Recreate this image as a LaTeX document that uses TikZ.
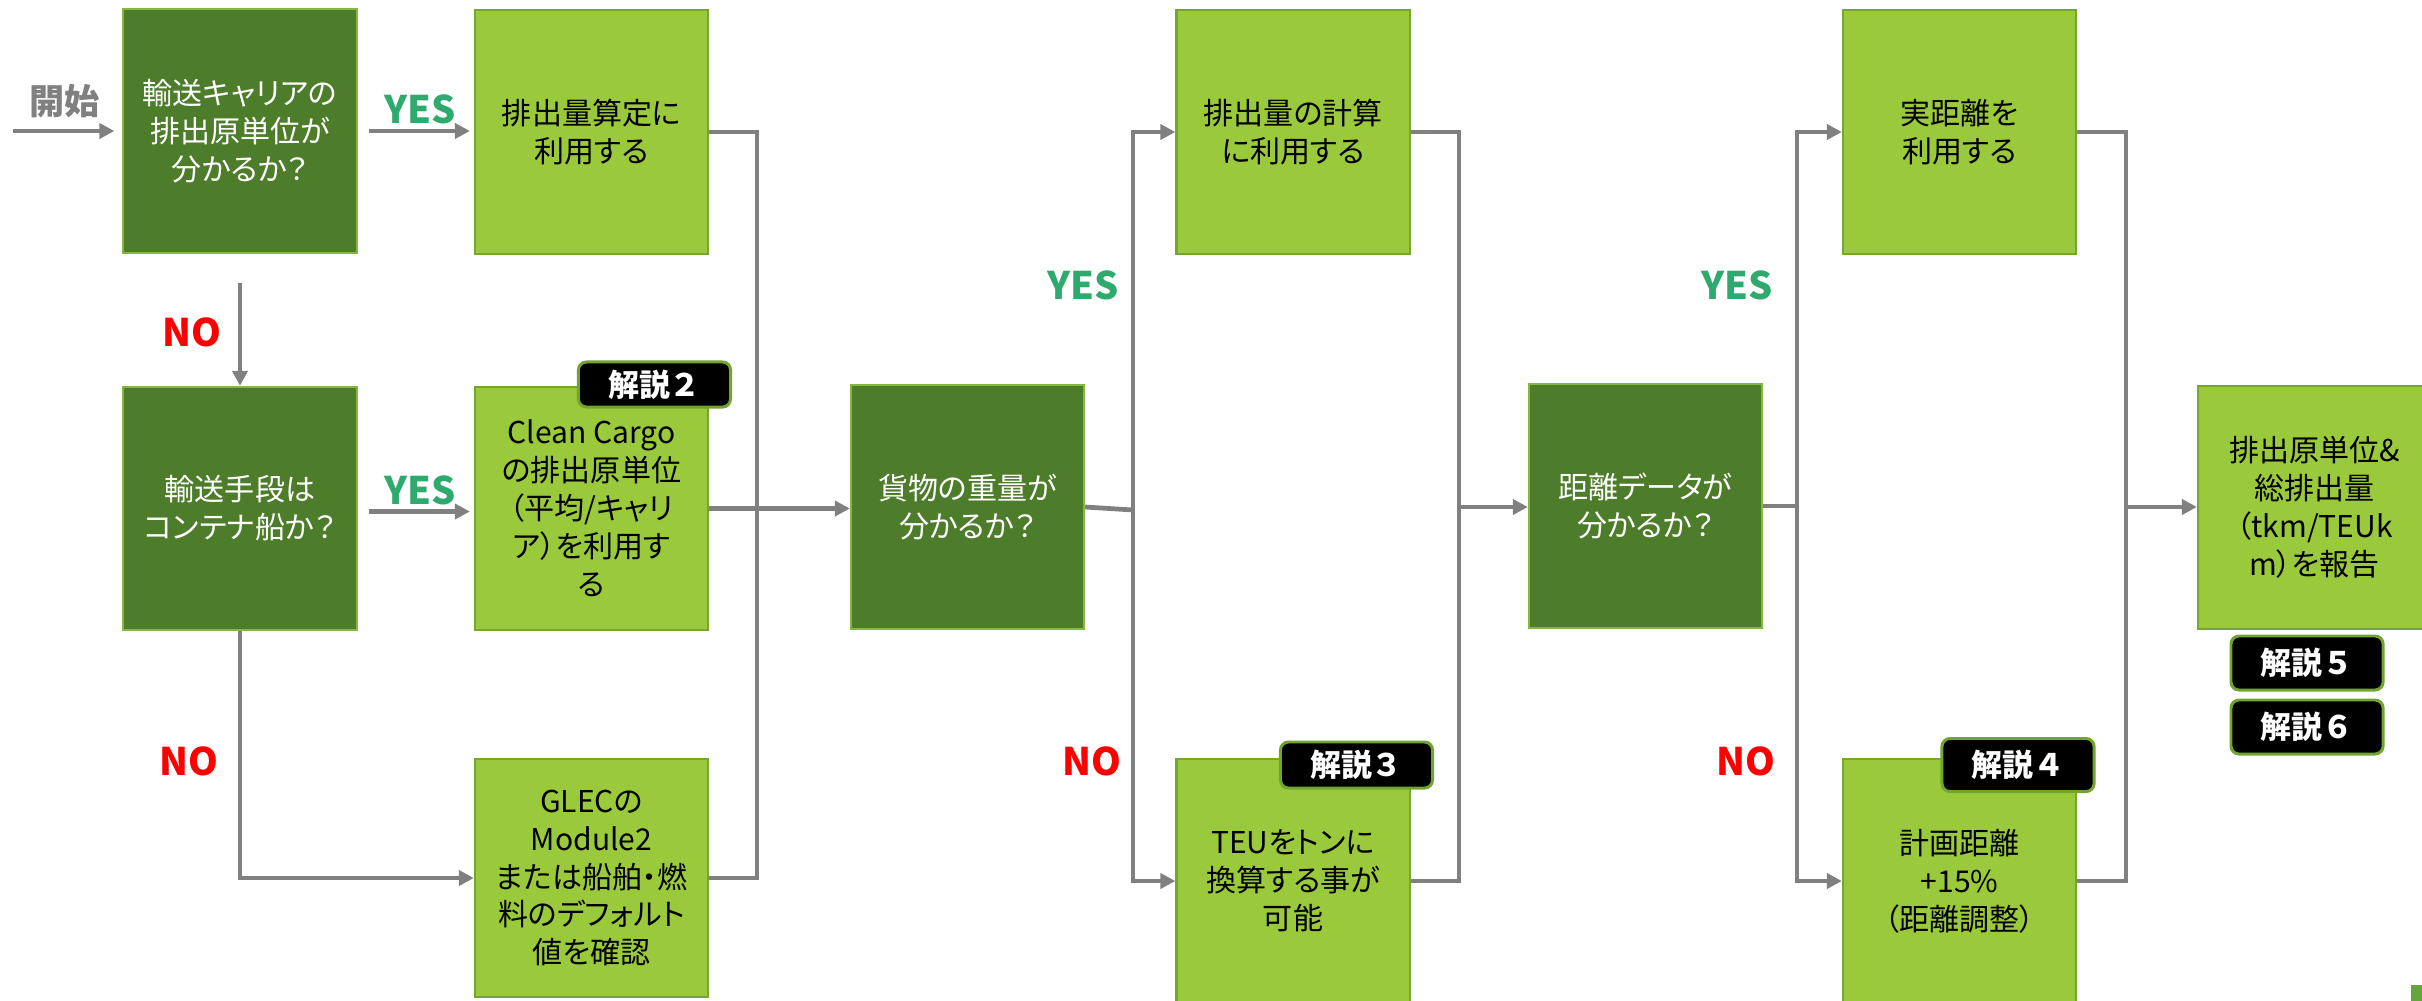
\documentclass[tikz,border=0pt]{standalone}
\usepackage{fontspec}
\setmainfont{Noto Sans CJK JP}[RawFeature={+palt}]
\newfontfamily\badgefont{Noto Sans CJK JP}
\usetikzlibrary{arrows.meta}
\definecolor{dg}{HTML}{4D7C2B}
\definecolor{lg}{HTML}{9ACA3C}
\definecolor{dgb}{HTML}{84B841}
\definecolor{lgb}{HTML}{76A632}
\definecolor{ln}{HTML}{808080}
\definecolor{yesc}{HTML}{2FAA6F}
\definecolor{badgeb}{HTML}{72A530}
\definecolor{sq}{HTML}{65A53A}
\begin{document}
\begin{tikzpicture}[x=0.01cm,y=-0.01cm,
  box/.style={rectangle, inner sep=0pt, minimum width=2.33cm, minimum height=2.43cm, align=center, line width=0.6pt, font=\fontsize{8.54pt}{10.8pt}\selectfont},
  dbox/.style={box, fill=dg, draw=dgb, text=white},
  lbox/.style={box, fill=lg, draw=lgb, text=black},
  badge/.style={rectangle, rounded corners=0.08cm, fill=black, draw=badgeb, line width=0.85pt, text=white, inner sep=0pt, minimum width=1.52cm, font=\badgefont\fontsize{8.8pt}{10pt}\selectfont\bfseries},
  lab/.style={font=\fontsize{10.8pt}{13pt}\selectfont\bfseries, inner sep=0pt},
  yes/.style={lab, text=yesc},
  no/.style={lab, text=red},
  arr/.style={draw=ln, line width=1.35pt, -{Triangle[length=0.15cm,width=0.15cm]}},
  con/.style={draw=ln, line width=1.35pt},
]
\clip (0,0) rectangle (2422,1000);
\fill[white] (0,0) rectangle (2422,1000);

% boxes
\node[dbox] (b1) at (240,131) {輸送キャリアの\\排出原単位が\\分かるか？};
\node[lbox] (b2) at (591.5,132) {排出量算定に\\利用する};
\node[dbox] (b3) at (240,508.5) {輸送手段は\\コンテナ船か？};
\node[lbox] (b4) at (591.5,508.5) {Clean Cargo\\の排出原単位\\（平均/キャリ\\ア）を利用す\\る};
\node[lbox, minimum height=2.38cm] (b5) at (591.5,878) {GLECの\\Module2\\または船舶・燃\\料のデフォルト\\値を確認};
\node[lbox] (b6) at (1293,132) {排出量の計算\\に利用する};
\node[dbox] (b7) at (967.5,507) {貨物の重量が\\分かるか？};
\node[lbox] (b8) at (1293,881) {TEUをトンに\\換算する事が\\可能};
\node[dbox] (b9) at (1645.5,506) {距離データが\\分かるか？};
\node[lbox] (b10) at (1959.5,132) {実距離を\\利用する};
\node[lbox] (b11) at (2314.5,507.5) {排出原単位\&\\総排出量\\（tkm/TEUk\\m）を報告};
\node[lbox] (b12) at (1959.5,881) {計画距離\\+15\%\\（距離調整）};
\node[fill=sq, inner sep=0pt, minimum width=0.12cm, minimum height=0.16cm, anchor=north west] (sqr) at (2410,984) {};

% badges
\node[badge, minimum height=0.45cm] (k2) at (654.5,384.5) {解説２};
\node[badge, minimum height=0.46cm] (k3) at (1356.5,765) {解説３};
\node[badge, minimum height=0.53cm] (k4) at (2018,765) {解説４};
\node[badge, minimum height=0.54cm] (k5) at (2307,663) {解説５};
\node[badge, minimum height=0.54cm] (k6) at (2307,727) {解説６};

% labels
\node[lab, text=ln, font=\fontsize{10pt}{12pt}\selectfont\bfseries] (start) at (64.5,101.5) {開始};
\node[yes] (y1) at (420,109) {YES};
\node[yes] (y2) at (420,490) {YES};
\node[no] (n1) at (192,332) {NO};
\node[no] (n2) at (189,761) {NO};
\node[yes] (y3) at (1083,285) {YES};
\node[no] (n3) at (1092,761) {NO};
\node[yes] (y4) at (1737,285) {YES};
\node[no] (n4) at (1746,761) {NO};

% junctions
\coordinate (s0) at (13,131);
\coordinate (j1) at (757,507);
\coordinate (j2) at (1133,510);
\coordinate (j3) at (1459,507);
\coordinate (j4) at (1797,506);
\coordinate (j5) at (2126,507);

% connectors
\draw[arr, shorten >=0.08cm] (s0) -- (s0 -| b1.west);
\draw[arr, shorten <=0.11cm, shorten >=0.04cm] (b1.east) -- (b1.east -| b2.west);
\draw[arr, shorten <=0.29cm] (b1.south) -- (b3.north);
\draw[arr, shorten <=0.11cm, shorten >=0.04cm] ([yshift=-0.03cm]b3.east) -- ([yshift=-0.03cm]b3.east -| b4.west);
\draw[arr] (b3.south) |- (b5.west);
\draw[con] (b2.east) -| (j1);
\draw[con] (b5.east) -| (j1);
\draw[arr] (b4.east) -- (b4.east -| b7.west);
\draw[con] (b7.east) -- (j2);
\draw[arr] (j2) |- (b6.west);
\draw[arr] (j2) |- (b8.west);
\draw[con] (b6.east) -| (j3);
\draw[con] (b8.east) -| (j3);
\draw[arr] (j3) -- (j3 -| b9.west);
\draw[con] (b9.east) -- (j4);
\draw[arr] (j4) |- (b10.west);
\draw[arr] (j4) |- (b12.west);
\draw[con] (b10.east) -| (j5);
\draw[con] (b12.east) -| (j5);
\draw[arr] (j5) -- (j5 -| b11.west);
\end{tikzpicture}
\end{document}
